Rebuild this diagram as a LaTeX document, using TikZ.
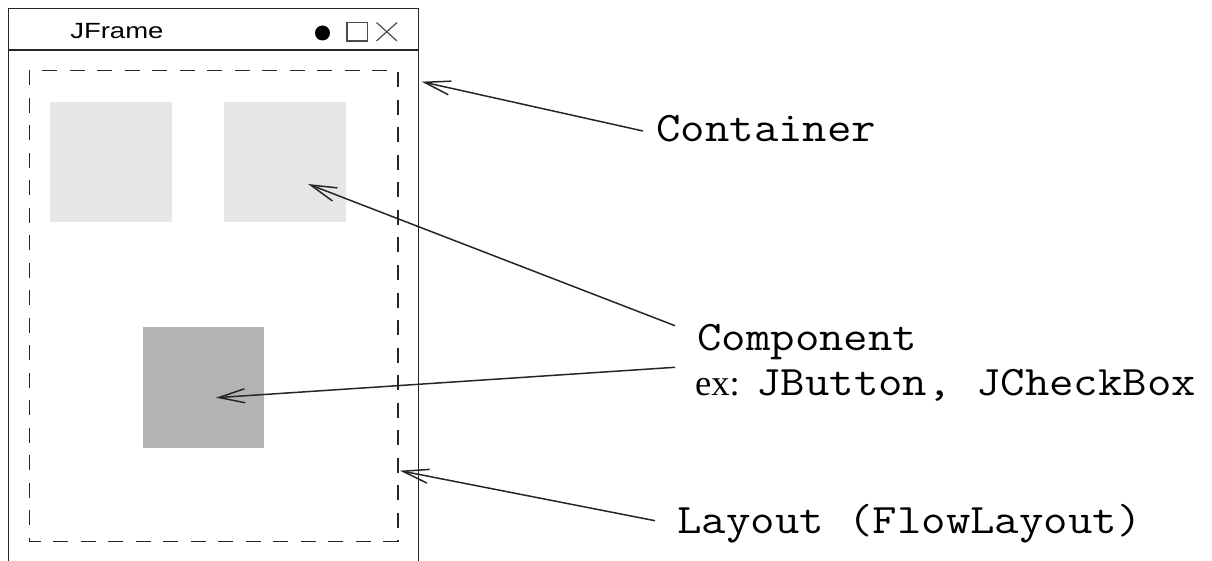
\documentclass[tikz,border=0pt]{standalone}
\usepackage{fontspec}
\setmainfont{Liberation Serif}
\newfontfamily\sansfont{Liberation Sans}
\usetikzlibrary{arrows.meta}
\definecolor{lightbox}{HTML}{E6E6E6}
\definecolor{darkbox}{HTML}{B3B3B3}
\newcommand{\mytt}{\ttfamily\fontsize{42}{50}\selectfont}
\tikzset{
  frameline/.style={draw=black!85, line width=1.4pt},
  dashline/.style={draw=black!85, line width=1.3pt, dash pattern=on 15pt off 12.5pt},
  pointer/.style={draw=black!85, line width=1.5pt, -{Straight Barb[length=26pt,width=14pt,line width=1.5pt]}},
  monolabel/.style={anchor=base west, inner sep=0pt, font=\mytt, xscale=1.13},
}
\begin{document}
\begin{tikzpicture}[x=1pt,y=-1pt]
\useasboundingbox (0,0) rectangle (1212,561);
% frame
\draw[frameline] (8.3,561) -- (8.3,8.3) -- (418.3,8.3) -- (418.3,561);
\draw[frameline] (8.3,50) -- (418.3,50);
\node[anchor=base west, inner sep=0pt, font=\sansfont\fontsize{22}{26}\selectfont, xscale=1.25] (title) at (70,38.3) {JFrame};
% title bar icons
\fill[black] (322.5,33) circle (7.5);
\draw[black!70, line width=1.2pt] (347,22.5) rectangle (367.5,41);
\draw[black!70, line width=1.2pt] (376.5,22.5) -- (397,41) (376.5,41) -- (397,22.5);
% layout rectangle
\draw[dashline] (398,541.5) -- (29.3,541.5) -- (29.3,70.7) -- (398,70.7) -- cycle;
% components
\fill[lightbox] (50,102) rectangle (171.7,222.5);
\fill[lightbox] (224,102) rectangle (346,222.5);
\fill[darkbox] (142.7,326.7) rectangle (263.7,448.3);
% labels
\node[monolabel] (cont) at (656,142) {Container};
\node[monolabel] (comp) at (697,350) {Component};
\node[anchor=base west, inner sep=0pt, font=\fontsize{36.5}{42}\selectfont] (ex) at (695,395.5) {ex:};
\node[monolabel] (exmono) at (756,395.5) {JButton, JCheckBox};
\node[monolabel] (lay) at (677,533) {Layout (FlowLayout)};
% connector ends
\coordinate (cs) at (643,131);
\coordinate (ct) at (421.7,81.7);
\coordinate (p1s) at (675,325.7);
\coordinate (p1t) at (308,184);
\coordinate (p2s) at (675,367.3);
\coordinate (p2t) at (216,397.7);
\coordinate (ls) at (655,520.7);
\coordinate (lt) at (400,470.7);
\draw[pointer] (cs) -- (ct);
\draw[pointer] (p1s) -- (p1t);
\draw[pointer] (p2s) -- (p2t);
\draw[pointer] (ls) -- (lt);
\end{tikzpicture}
\end{document}
